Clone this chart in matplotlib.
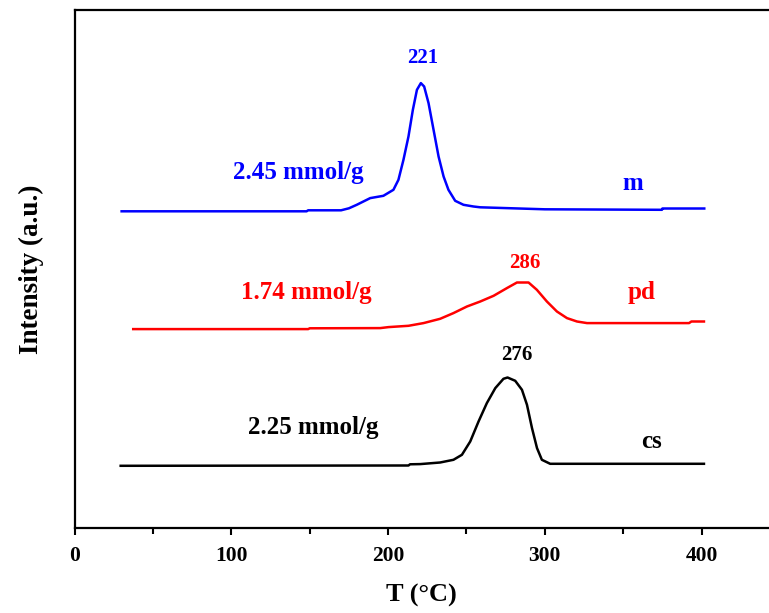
import matplotlib.pyplot as plt
import matplotlib.ticker as mticker

plt.rcParams['font.family'] = ['Liberation Serif', 'DejaVu Serif']
plt.rcParams['font.weight'] = 'bold'
plt.rcParams['axes.labelweight'] = 'bold'

# m (blue)
t_m = [30, 148, 149, 170, 175, 180, 188.6, 197, 203.4, 206.6, 209.8, 213, 215.8, 218.4, 220.9,
       223, 225.8, 229, 232.2, 235.4, 238.5, 242.8, 248.1, 254.5, 258.8, 300, 374.7, 375, 401.7]
i_m = [316.5, 316.5, 317.5, 317.5, 319.5, 323, 329.7, 332, 338, 348, 368, 391.3, 418, 438, 444.7,
       441.3, 424.7, 398, 371.3, 351.3, 338, 327, 323, 321.3, 320.5, 318.5, 318, 319.3, 319.3]

# pd (red)
t_pd = [37.4, 149, 150, 195, 200.3, 213, 222.6, 233.2, 241.7, 250.3, 258.8, 267.3, 275.8, 282.2,
        289.6, 294.9, 301.3, 307.7, 314.1, 320.5, 326.9, 341.7, 392, 393.5, 401.5]
i_pd = [198.7, 198.7, 199.5, 199.7, 200.7, 202, 204.7, 209, 214.7, 221.3, 226.3, 232, 239.7, 245.3,
        245.3, 238, 226.3, 216.3, 209.7, 206.3, 204.7, 204.7, 204.7, 206.3, 206.3]

# cs (black)
t_cs = [29.4, 213, 214, 220.5, 233.2, 241.7, 247.1, 252.4, 257.7, 263, 268.4, 273.6, 276.2, 281.1,
        285.4, 288.6, 291.8, 295, 298.1, 303.4, 316.2, 401.5]
i_cs = [62, 62.3, 63.5, 63.7, 65.3, 68, 73, 86.3, 106.3, 124.7, 139.7, 149, 150.3, 147,
        138, 123, 99.7, 79.7, 68, 64, 64, 64]

fig = plt.figure(figsize=(7.69, 6.13), dpi=100)
ax = fig.add_axes([0.097, 0.139, 0.903, 0.845])

ax.plot(t_m, i_m, color='#0000ff', lw=1.8)
ax.plot(t_pd, i_pd, color='#ff0000', lw=1.8)
ax.plot(t_cs, i_cs, color='black', lw=1.8)

fs = 18
ax.text(221.8, 470, '221', color='#0000ff', fontsize=15, ha='center', va='center')
ax.text(142.6, 355, '2.45 mmol/g', color='#0000ff', fontsize=fs, ha='center', va='center')
ax.text(356, 344, 'm', color='#0000ff', fontsize=fs, ha='center', va='center')
ax.text(287, 265, '286', color='#ff0000', fontsize=15, ha='center', va='center')
ax.text(148, 235, '1.74 mmol/g', color='#ff0000', fontsize=fs, ha='center', va='center')
ax.text(362, 235, 'pd', color='#ff0000', fontsize=fs, ha='center', va='center')
ax.text(282, 173, '276', color='black', fontsize=15, ha='center', va='center')
ax.text(152, 100, '2.25 mmol/g', color='black', fontsize=fs, ha='center', va='center')
ax.text(368, 86, 'cs', color='black', fontsize=fs, ha='center', va='center')

ax.set_xlim(0, 443)
ax.set_ylim(0, 518)
ax.xaxis.set_major_locator(mticker.MultipleLocator(100))
ax.xaxis.set_minor_locator(mticker.MultipleLocator(50))
ax.set_yticks([])
ax.spines['right'].set_visible(False)
for s in ['left', 'top', 'bottom']:
    ax.spines[s].set_linewidth(1.6)
ax.tick_params(axis='x', which='major', direction='out', length=5, width=1.5, labelsize=15.5, pad=8)
ax.tick_params(axis='x', which='minor', direction='out', length=4, width=1.5)

ax.set_xlabel('T (°C)', fontsize=19, labelpad=13)
ax.set_ylabel('Intensity (a.u.)', fontsize=19.5, labelpad=22)

fig.savefig('out.png', dpi=100)
